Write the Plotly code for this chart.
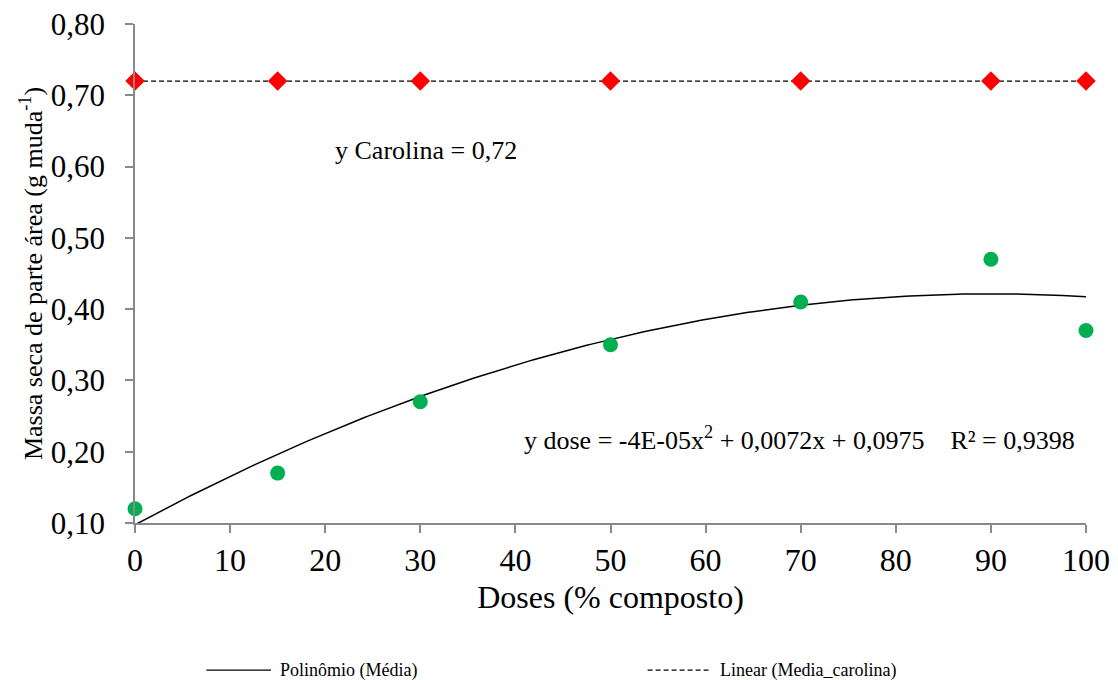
import numpy as np
import plotly.graph_objects as go

# Doses of compost (% composto) and measured shoot dry mass
doses = [0, 15, 30, 50, 70, 90, 100]
media = [0.12, 0.17, 0.27, 0.35, 0.41, 0.47, 0.37]
media_carolina = [0.72, 0.72, 0.72, 0.72, 0.72, 0.72, 0.72]

# Fitted trend coefficients (quadratic for doses, constant for Carolina)
poly_a, poly_b, poly_c = -4e-05, 0.0072, 0.0975
carolina_mean = 0.72

x_tick_vals = [0, 10, 20, 30, 40, 50, 60, 70, 80, 90, 100]
y_tick_vals = [0.10, 0.20, 0.30, 0.40, 0.50, 0.60, 0.70, 0.80]

FONT = "Liberation Serif"
SHORT_DASH = "5px,3px"

x_fit = np.linspace(0, 100, 201)
y_fit = poly_a * x_fit ** 2 + poly_b * x_fit + poly_c

fig = go.Figure()

fig.add_trace(go.Scatter(
    x=[0, 100], y=[carolina_mean, carolina_mean], mode="lines",
    line=dict(color="black", width=1.2, dash=SHORT_DASH),
    name="Linear (Media_carolina)", showlegend=False,
))
fig.add_trace(go.Scatter(
    x=x_fit, y=y_fit, mode="lines",
    line=dict(color="black", width=1.5),
    name="Polinômio (Média)", showlegend=False,
))
fig.add_trace(go.Scatter(
    x=doses, y=media, mode="markers",
    marker=dict(symbol="circle", size=15, color="#00B050"),
    cliponaxis=False, showlegend=False, name="Média",
))
fig.add_trace(go.Scatter(
    x=doses, y=media_carolina, mode="markers",
    marker=dict(symbol="diamond", size=15, color="#FF0000"),
    cliponaxis=False, showlegend=False, name="Media_carolina",
))

fig.add_annotation(
    x=30.6, y=0.623, xref="x", yref="y", showarrow=False,
    text="y Carolina = 0,72",
    font=dict(family=FONT, size=26, color="black"),
)
fig.add_annotation(
    x=69.9, y=0.219, xref="x", yref="y", showarrow=False,
    text="y dose = -4E-05x<sup>2</sup> + 0,0072x + 0,0975    R² = 0,9398",
    font=dict(family=FONT, size=26, color="black"),
)

# Legend keys below the x axis: a sample line followed by its label
legend_items = [
    ("Polinômio (Média)", "solid", 0.075, 0.143),
    ("Linear (Media_carolina)", SHORT_DASH, 0.539, 0.606),
]
legend_y = -0.295
for label, dash, x0, x1 in legend_items:
    fig.add_shape(
        type="line", xref="paper", yref="paper",
        x0=x0, x1=x1, y0=legend_y, y1=legend_y,
        line=dict(color="black", width=1.2, dash=dash),
    )
    fig.add_annotation(
        x=x1 + 0.007, y=legend_y, xref="paper", yref="paper",
        xanchor="left", yanchor="middle", showarrow=False,
        text=label, font=dict(family=FONT, size=18, color="black"),
    )

axis_gray = "#898989"

fig.update_layout(
    width=1118, height=680,
    margin=dict(l=135, r=32, t=24, b=157, autoexpand=False),
    paper_bgcolor="white", plot_bgcolor="white",
    separators=",.",
    showlegend=False,
    font=dict(family=FONT, color="black"),
    xaxis=dict(
        range=[0, 100], tickvals=x_tick_vals,
        showgrid=False, zeroline=False,
        showline=True, linecolor=axis_gray, linewidth=1.5,
        ticks="outside", ticklen=8, tickcolor=axis_gray, tickwidth=1.5,
        tickfont=dict(family=FONT, size=32, color="black"),
        title=dict(text="Doses (% composto)", standoff=8,
                   font=dict(family=FONT, size=32, color="black")),
    ),
    yaxis=dict(
        range=[0.10, 0.80], tickvals=y_tick_vals, tickformat=".2f",
        showgrid=False, zeroline=False,
        showline=True, linecolor=axis_gray, linewidth=1.5,
        ticks="outside", ticklen=8, tickcolor=axis_gray, tickwidth=1.5,
        ticklabelstandoff=14,
        tickfont=dict(family=FONT, size=31, color="black"),
        title=dict(text="Massa seca de parte área (g muda<sup>-1</sup>)", standoff=1,
                   font=dict(family=FONT, size=26, color="black")),
    ),
)

fig.write_html("out.html")
